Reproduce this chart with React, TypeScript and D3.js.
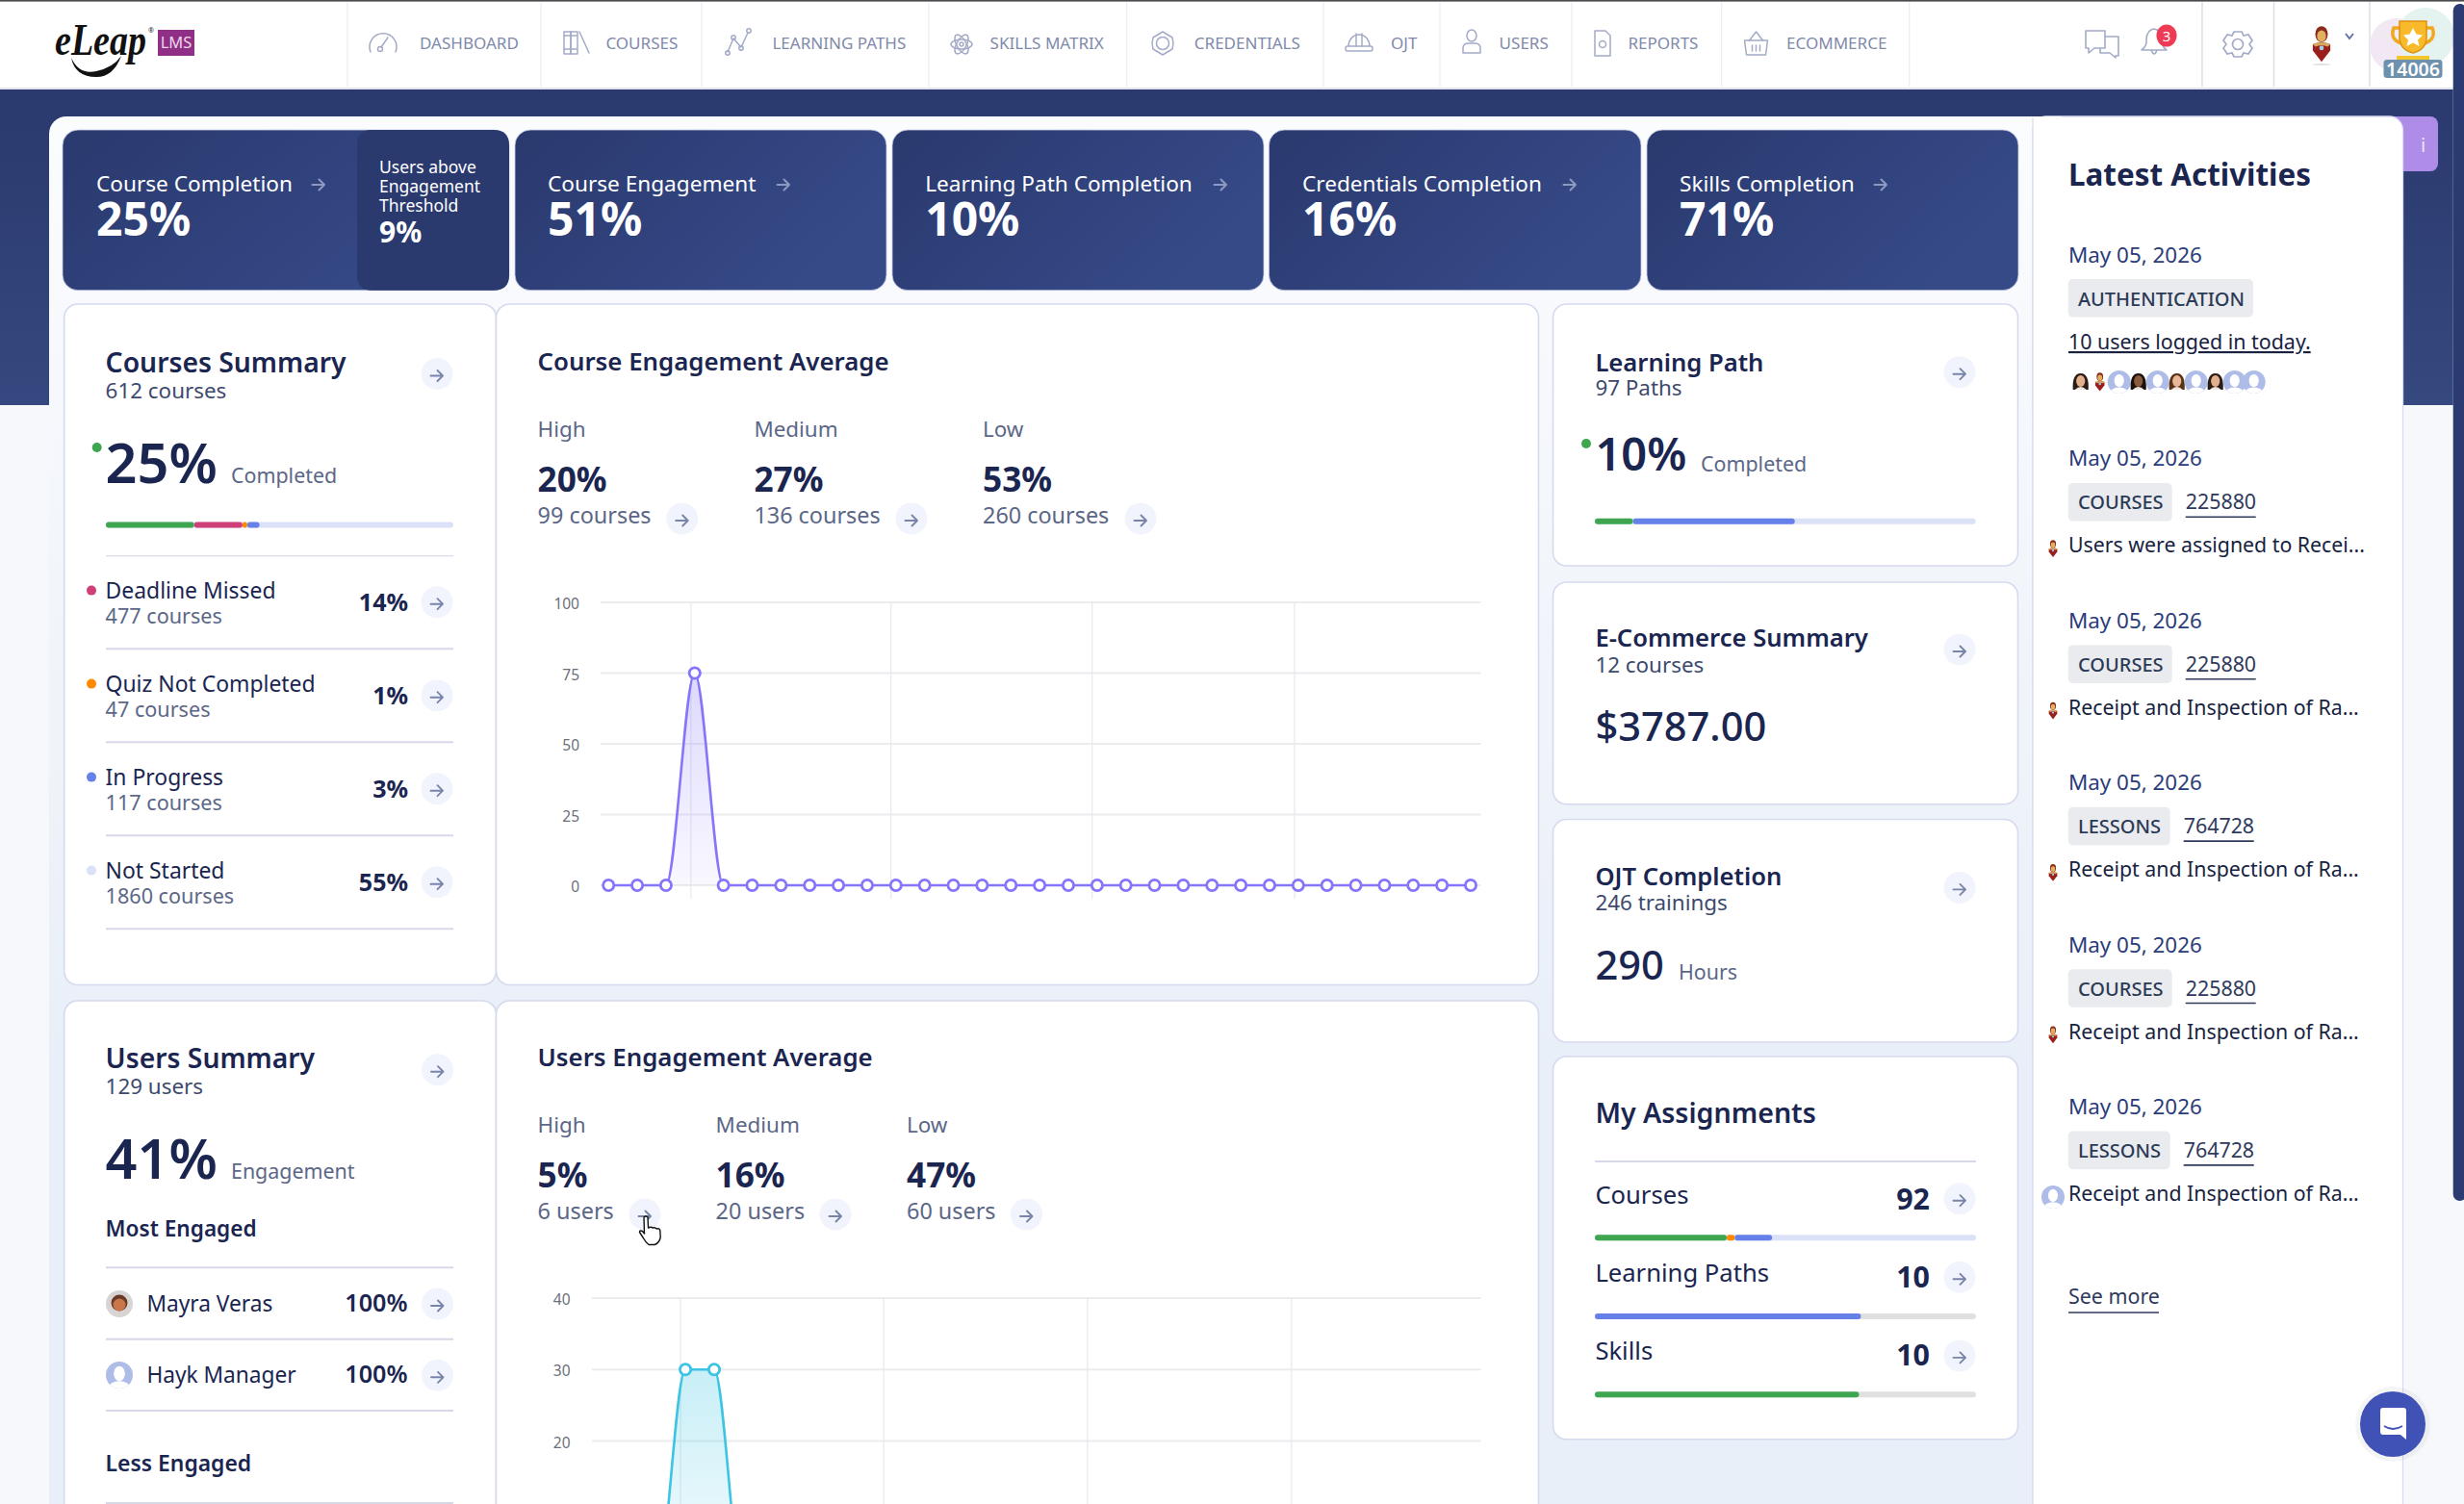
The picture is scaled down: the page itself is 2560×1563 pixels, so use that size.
import React from "react";
import * as d3 from "d3";

// ---------- data ----------
const navLabels = ["DASHBOARD", "COURSES", "LEARNING PATHS", "SKILLS MATRIX", "CREDENTIALS", "OJT", "USERS", "REPORTS", "ECOMMERCE"];
const statTitles = ["Course Completion", "Course Engagement", "Learning Path Completion", "Credentials Completion", "Skills Completion"];
const statValues = ["25%", "51%", "10%", "16%", "71%"];
const thresholdLines = ["Users above", "Engagement", "Threshold"];
const thresholdValue = "9%";

const summaryLabels = ["Deadline Missed", "Quiz Not Completed", "In Progress", "Not Started"];
const summaryCounts = ["477 courses", "47 courses", "117 courses", "1860 courses"];
const summaryValues = ["14%", "1%", "3%", "55%"];
const summaryBar = [25.4, 13.9, 1.4, 3.5];

const levelLabels = ["High", "Medium", "Low"];
const courseLevelValues = ["20%", "27%", "53%"];
const courseLevelCounts = ["99 courses", "136 courses", "260 courses"];
const userLevelValues = ["5%", "16%", "47%"];
const userLevelCounts = ["6 users", "20 users", "60 users"];

const courseEngagement = [0, 0, 0, 75, 0, 0, 0, 0, 0, 0, 0, 0, 0, 0, 0, 0, 0, 0, 0, 0, 0, 0, 0, 0, 0, 0, 0, 0, 0, 0, 0];
const userEngagement = [0, 0, 0, 30, 30, 0, 0, 0, 0, 0, 0, 0, 0, 0, 0, 0, 0, 0, 0, 0, 0, 0, 0, 0, 0, 0, 0, 0, 0, 0, 0];
const courseTicks = [0, 25, 50, 75, 100];
const userTicks = [20, 30, 40];
const courseWeekMarks = [2.87, 9.83, 16.83, 23.87];
const userWeekMarks = [2.83, 9.89, 16.97, 24.06];

const engagedNames = ["Mayra Veras", "Hayk Manager"];
const engagedValues = ["100%", "100%"];

const learningBar = [10, 42.5];
const assignLabels = ["Courses", "Learning Paths", "Skills"];
const assignCounts = ["92", "10", "10"];
const assignCoursesBar = [34.6, 2.1, 9.8];
const assignPathsBar = [69.8];
const assignSkillsBar = [69.3];

const activityTags = ["COURSES", "COURSES", "LESSONS", "COURSES", "LESSONS"];
const activityIds = ["225880", "225880", "764728", "225880", "764728"];
const activityTexts = [
  "Users were assigned to Recei...",
  "Receipt and Inspection of Ra...",
  "Receipt and Inspection of Ra...",
  "Receipt and Inspection of Ra...",
  "Receipt and Inspection of Ra...",
];
const activityDate = "May 05, 2026";

// ---------- palette / layout ----------
const FONT = "'Noto Sans', sans-serif";
const INK = "#1a2550";
const SUB = "#5c6787";
const NAVTXT = "#7f8aab";
const ICON = "#a3abc6";
const GREEN = "#3fa650";
const PINK = "#cf3f78";
const ORANGE = "#ff8a00";
const BLUE = "#6580e8";
const PALE = "#dbe1f7";

const navTextX = [436, 629.4, 802.4, 1028.6, 1240.8, 1445, 1557.6, 1691.4, 1856];
const navIconX = [398, 599, 767, 999, 1208, 1412, 1529, 1665, 1824.5];
const navSeps = [361, 562, 729, 965, 1170.6, 1375, 1496, 1633, 1788.6, 1983.7, 2288, 2362.5, 2462];
const statRects = [[65, 529], [535, 921], [927, 1313], [1318.4, 1705], [1711, 2097]];
const statTextX = [100, 569, 961.2, 1353, 1745];
const statArrowX = [331, 814, 1268, 1631, 1954];

type TProps = { x: number; y: number; s: number; w?: number; c?: string; a?: "start" | "end" | "middle"; children: React.ReactNode; u?: boolean; ff?: string; i?: boolean; len?: number };
const T = ({ x, y, s, w = 400, c = INK, a = "start", children, u, ff, i, len }: TProps) => (
  <text x={x} y={y} fontSize={s} fontWeight={w} fill={c} textAnchor={a} fontFamily={ff || FONT} fontStyle={i ? "italic" : "normal"} textDecoration={u ? "underline" : "none"} textLength={len} lengthAdjust={len ? "spacingAndGlyphs" : undefined}>
    {children}
  </text>
);

const Arrow = ({ x, y, c = "#7984a9", sw = 1.9 }: { x: number; y: number; c?: string; sw?: number }) => (
  <path d={`M${x - 6.5} ${y}H${x + 6}M${x + 0.5} ${y - 5.5}L${x + 6} ${y}L${x + 0.5} ${y + 5.5}`} fill="none" stroke={c} strokeWidth={sw} strokeLinecap="round" strokeLinejoin="round" />
);
const Go = ({ x, y }: { x: number; y: number }) => (
  <g>
    <circle cx={x} cy={y} r={16.5} fill="#f1f4fc" />
    <Arrow x={x} y={y + 2} />
  </g>
);

const Card = ({ x0, x1, y0, y1 }: { x0: number; x1: number; y0: number; y1: number }) => (
  <rect x={x0} y={y0} width={x1 - x0} height={y1 - y0} rx={14} fill="#fff" stroke="#d6daee" strokeWidth={1.6} />
);

const Bar = ({ x0, x1, y, vals, cols, track = PALE }: { x0: number; x1: number; y: number; vals: number[]; cols: string[]; track?: string }) => {
  const sc = d3.scaleLinear().domain([0, 100]).range([x0, x1]);
  const cum = [0, ...Array.from(d3.cumsum(vals))];
  return (
    <g>
      <rect x={x0} y={y - 3} width={x1 - x0} height={6} rx={3} fill={track} />
      {vals
        .map((v, i) => (
          <rect key={i} x={sc(cum[i])} y={y - 3} width={sc(cum[i] + v) - sc(cum[i])} height={6} rx={3} fill={cols[i]} />
        ))
        .reverse()}
    </g>
  );
};

const Generic = ({ x, y, r = 12 }: { x: number; y: number; r?: number }) => (
  <g>
    <clipPath id={`g${Math.round(x)}_${Math.round(y)}`}>
      <circle cx={x} cy={y} r={r} />
    </clipPath>
    <circle cx={x} cy={y} r={r} fill="#aebce8" />
    <g clipPath={`url(#g${Math.round(x)}_${Math.round(y)})`}>
      <ellipse cx={x} cy={y - 1.5} rx={r * 0.42} ry={r * 0.55} fill="#fff" />
      <ellipse cx={x} cy={y + r * 0.95} rx={r * 0.8} ry={r * 0.5} fill="#fff" />
    </g>
  </g>
);
const Iron = ({ x, y, k = 1 }: { x: number; y: number; k?: number }) => (
  <g transform={`translate(${x},${y}) scale(${k})`}>
    <ellipse cx={0} cy={-8} rx={5} ry={6.5} fill="#8a2a1c" />
    <ellipse cx={0} cy={-6.5} rx={3.6} ry={4.6} fill="#e0b060" />
    <path d="M-7 0Q0 -3 7 0L7 5L0 14L-7 5Z" fill="#9a1f1c" />
    <path d="M-7 0Q0 -3 7 0L5 2Q0 0 -5 2Z" fill="#d9a860" />
    <circle cx={0} cy={3} r={1.8} fill="#9fd0e8" />
  </g>
);
const Face = ({ x, y, skin = "#e3b08c", hair = "#2c1c18" }: { x: number; y: number; skin?: string; hair?: string }) => (
  <g>
    <path d={`M${x - 8} ${y + 8}Q${x - 9} ${y - 9} ${x} ${y - 9}Q${x + 9} ${y - 9} ${x + 8} ${y + 8}Z`} fill={hair} />
    <ellipse cx={x} cy={y - 1} rx={4.6} ry={6} fill={skin} />
    <path d={`M${x - 6} ${y + 8}Q${x} ${y + 2} ${x + 6} ${y + 8}Z`} fill="#efe6e0" />
  </g>
);

const Chart = ({ series, ticks, yDom, yRange, xRange, gridX0, color, area, clipId, labelX, marks }: any) => {
  const xs = d3.scaleLinear().domain([0, 30]).range(xRange);
  const ys = d3.scaleLinear().domain(yDom).range(yRange);
  const base = ys(0);
  const line = d3.line<number>().x((_, i) => xs(i)).y((d) => ys(d)).curve(d3.curveMonotoneX);
  const ar = d3.area<number>().x((_, i) => xs(i)).y0(base).y1((d) => ys(d)).curve(d3.curveMonotoneX);
  const top = ys(yDom[1]);
  return (
    <g>
      <defs>
        <linearGradient id={clipId} x1="0" y1={top + (base - top) * 0.25} x2="0" y2={base} gradientUnits="userSpaceOnUse">
          <stop offset="0" stopColor={area} stopOpacity={0.28} />
          <stop offset="1" stopColor={area} stopOpacity={0.05} />
        </linearGradient>
      </defs>
      {ticks.map((t: number) => (
        <g key={t}>
          <line x1={gridX0} x2={1538.6} y1={ys(t)} y2={ys(t)} stroke="#ececef" strokeWidth={1.8} />
          <T x={labelX} y={ys(t) + 7} s={15.5} c="#6c6f78" a="end">{t}</T>
        </g>
      ))}
      {marks.map((m: number) => (
        <line key={m} x1={xs(m)} x2={xs(m)} y1={top} y2={base + 14} stroke="#e8e8ee" strokeWidth={1.2} />
      ))}
      <path d={ar(series) as string} fill={`url(#${clipId})`} />
      <path d={line(series) as string} fill="none" stroke={color} strokeWidth={2.6} />
      {series.map((d: number, i: number) => (
        <circle key={i} cx={xs(i)} cy={ys(d)} r={5.6} fill="#fff" stroke={color} strokeWidth={2.8} />
      ))}
    </g>
  );
};

const NavIcon = ({ i, x }: { i: number; x: number }) => {
  const y = 45;
  const p = { fill: "none", stroke: ICON, strokeWidth: 1.5, strokeLinecap: "round", strokeLinejoin: "round" } as any;
  if (i === 0)
    return (
      <g {...p}>
        <path d={`M${x - 13} ${y + 9}A14 14 0 1 1 ${x + 13} ${y + 9}`} />
        <path d={`M${x - 2} ${y + 4}L${x + 5} ${y - 6}`} />
        <circle cx={x - 3} cy={y + 6} r={2.5} />
      </g>
    );
  if (i === 1)
    return (
      <g {...p}>
        <rect x={x - 13} y={y - 12} width={7} height={23} />
        <rect x={x - 6} y={y - 12} width={7} height={23} />
        <path d={`M${x + 3} ${y - 12}L${x + 13} ${y + 10}`} />
        <path d={`M${x - 13} ${y - 8}H${x}M${x - 13} ${y + 6}H${x}`} />
      </g>
    );
  if (i === 2)
    return (
      <g {...p}>
        <path d={`M${x - 11} ${y + 9}L${x - 5} ${y - 5}L${x + 3} ${y + 4}L${x + 10} ${y - 11}`} />
        <circle cx={x - 11} cy={y + 10} r={2.2} />
        <circle cx={x - 5} cy={y - 6} r={2.2} />
        <circle cx={x + 3} cy={y + 5} r={2.2} />
        <circle cx={x + 11} cy={y - 13} r={2.2} />
      </g>
    );
  if (i === 3)
    return (
      <g {...p}>
        <ellipse cx={x} cy={y + 1} rx={11} ry={5} transform={`rotate(60 ${x} ${y + 1})`} />
        <ellipse cx={x} cy={y + 1} rx={11} ry={5} transform={`rotate(-60 ${x} ${y + 1})`} />
        <ellipse cx={x} cy={y + 1} rx={11} ry={5} />
        <circle cx={x} cy={y + 1} r={2} />
      </g>
    );
  if (i === 4)
    return (
      <g {...p}>
        <path d={`M${x} ${y - 12}L${x + 5} ${y - 9}L${x + 10} ${y - 6}L${x + 11} ${y}L${x + 10} ${y + 6}L${x + 5} ${y + 9}L${x} ${y + 12}L${x - 5} ${y + 9}L${x - 10} ${y + 6}L${x - 11} ${y}L${x - 10} ${y - 6}L${x - 5} ${y - 9}Z`} />
        <circle cx={x} cy={y} r={6.5} />
      </g>
    );
  if (i === 5)
    return (
      <g {...p}>
        <path d={`M${x - 11} ${y + 3}A11 12 0 0 1 ${x + 11} ${y + 3}`} />
        <rect x={x - 14} y={y + 3} width={28} height={5} rx={2} />
        <path d={`M${x - 3} ${y - 10}V${y + 3}M${x + 3} ${y - 10}V${y + 3}`} />
      </g>
    );
  if (i === 6)
    return (
      <g {...p}>
        <ellipse cx={x} cy={y - 8} rx={5} ry={6} />
        <path d={`M${x - 9} ${y + 10}V${y + 5}Q${x - 9} ${y} ${x - 3} ${y}H${x + 3}Q${x + 9} ${y} ${x + 9} ${y + 5}V${y + 10}Z`} />
      </g>
    );
  if (i === 7)
    return (
      <g {...p}>
        <path d={`M${x - 8} ${y - 13}H${x + 3}L${x + 8} ${y - 8}V${y + 13}H${x - 8}Z`} />
        <circle cx={x} cy={y + 1} r={3.5} />
      </g>
    );
  return (
    <g {...p}>
      <path d={`M${x - 12} ${y - 3}H${x + 12}L${x + 10} ${y + 12}H${x - 10}Z`} />
      <path d={`M${x - 7} ${y - 3}L${x} ${y - 12}L${x + 7} ${y - 3}`} />
      <path d={`M${x - 4} ${y + 2}V${y + 8}M${x} ${y + 2}V${y + 8}M${x + 4} ${y + 2}V${y + 8}`} />
    </g>
  );
};

const LevelBlock = ({ dy, xs, goXs, vals, counts }: any) =>
  levelLabels.map((l, i) => (
    <g key={l}>
      <T x={xs[i]} y={453.7 + dy} s={22.4} c={SUB}>{l}</T>
      <T x={xs[i]} y={510.7 + dy} s={35.2} w={700}>{vals[i]}</T>
      <T x={xs[i]} y={543.7 + dy} s={23.4} c={SUB}>{counts[i]}</T>
      <Go x={goXs[i]} y={539 + dy} />
    </g>
  ));

export default function App() {
  const rowY = d3.scaleLinear().domain([0, 1]).range([0, 97]);
  const dotCols = [PINK, ORANGE, BLUE, PALE];
  const activityY = d3.scaleLinear().domain([0, 1]).range([484.3, 652.7]);
  const tagW: Record<string, number> = { COURSES: 108, LESSONS: 106 };
  const avatars = [0, 1, 2, 3, 4, 5, 6, 7, 8, 9];
  const avatarX = d3.scaleLinear().domain([0, 9]).range([2161.7, 2341.7]);
  const TX = 109.6;
  return (
    <svg width={2560} height={1563} viewBox="0 0 2560 1563" style={{ position: "fixed", left: 0, top: 0, display: "block" }}>
      <defs>
        <linearGradient id="navy" x1="0" y1="93" x2="0" y2="421" gradientUnits="userSpaceOnUse">
          <stop offset="0" stopColor="#2a396e" />
          <stop offset="1" stopColor="#35487f" />
        </linearGradient>
        <linearGradient id="stat" x1="0" y1="0" x2="1" y2="0.45">
          <stop offset="0" stopColor="#2a396e" />
          <stop offset="1" stopColor="#364a88" />
        </linearGradient>
        <linearGradient id="inner" x1="0" y1="121" x2="0" y2="1100" gradientUnits="userSpaceOnUse">
          <stop offset="0" stopColor="#fbfcfe" />
          <stop offset="1" stopColor="#e9eff8" />
        </linearGradient>
      </defs>
      <rect width={2560} height={1563} fill="#f6f8fb" />
      <rect y={93} width={2560} height={328} fill="url(#navy)" />
      <rect x={2548.7} y={93} width={12} height={1100} fill="#f6f8fb" />

      {/* header */}
      <rect width={2560} height={92} fill="#fff" />
      <rect width={2560} height={1.6} fill="#4a4a4e" />
      <rect y={91} width={2560} height={1.6} fill="#dfe1ea" />
      {navSeps.map((x, i) => (
        <line key={x} x1={x} x2={x} y1={2} y2={90} stroke={i > 9 ? "#d9dbe2" : "#eceef5"} strokeWidth={1.3} />
      ))}
      <T x={57} y={57} s={46} w={700} i ff="'Liberation Serif', serif" c="#111" len={95}>eLeap</T>
      <path d="M74 60Q82 78 100 74Q118 70 126 58Q118 80 100 80Q78 80 74 60Z" fill="#111" />
      <T x={154} y={34} s={7} c="#222">®</T>
      <rect x={164} y={31} width={38} height={27} fill="#8f2f85" />
      <T x={183} y={50} s={16.5} c="#eed7ea" a="middle">LMS</T>
      {navLabels.map((n, i) => (
        <g key={n}>
          <NavIcon i={i} x={navIconX[i]} />
          <T x={navTextX[i]} y={51} s={17.05} c={NAVTXT}>{n}</T>
        </g>
      ))}
      <g fill="none" stroke={ICON} strokeWidth={1.6} strokeLinejoin="round">
        <path d="M2167 32H2187V50H2176L2170 55V50H2167Z" />
        <path d="M2187 38H2201V58H2198V60L2192 55H2182V50" />
        <path d="M2225 52Q2231 48 2230 40Q2231 31 2238 30Q2245 31 2246 40Q2245 48 2251 52Z" />
        <path d="M2235 52Q2238 60 2241 52" />
      </g>
      <ellipse cx={2251} cy={37} rx={10.5} ry={11.5} fill="#ef3a55" />
      <T x={2251} y={43} s={15} c="#fff" a="middle">3</T>
      <g fill="none" stroke={ICON} strokeWidth={1.7}>
        <circle cx={2325} cy={46} r={5.5} />
        <path d="M2321 33H2329L2331 37L2336 36L2340 42L2337 46L2340 50L2336 56L2331 55L2329 59H2321L2319 55L2314 56L2310 50L2313 46L2310 42L2314 36L2319 37Z" />
      </g>
      <Iron x={2412} y={46} k={1.3} />
      <ellipse cx={2412} cy={67} rx={10} ry={1.2} fill="#e4e4e4" />
      <path d="M2437 35L2441 40L2445 35" fill="none" stroke="#5a6aa5" strokeWidth={1.8} />
      <circle cx={2490} cy={47} r={28} fill="#f2e8f4" />
      <circle cx={2520} cy={38} r={30} fill="#e4f3f0" />
      <g stroke="#e09010" strokeWidth={1.5}>
        <path d="M2497 29H2487Q2482 42 2498 46" fill="none" stroke="#f0a820" strokeWidth={3.5} />
        <path d="M2517 29H2527Q2532 42 2516 46" fill="none" stroke="#f0a820" strokeWidth={3.5} />
        <path d="M2493 22H2521V40Q2520 52 2507 55Q2494 52 2493 40Z" fill="#f8b92a" />
      </g>
      <path d="M2507 29L2510.5 35.5L2517 36.5L2512 41.5L2513.5 48L2507 44.5L2500.5 48L2502 41.5L2497 36.5L2503.5 35.5Z" fill="#fff" />
      <rect x={2490} y={58} width={34} height={5} fill="#f5c52c" />
      <rect x={2476.5} y={62} width={61} height={19} rx={3.5} fill="#6e92ad" />
      <T x={2507} y={79} s={19.5} w={600} c="#fff" a="middle">14006</T>

      {/* containers */}
      <rect x={2460} y={121} width={73} height={57} rx={8} fill="#af8ce8" />
      <T x={2515} y={158} s={20} c="#ece3fa">i</T>
      <rect x={51} y={121} width={2080} height={1500} rx={18} fill="url(#inner)" />
      <rect x={2112} y={121} width={384.5} height={1500} rx={14} fill="#fff" stroke="#d9dcf0" strokeWidth={1.3} />
      <rect x={2112} y={121} width={30} height={1500} fill="#fff" />
      <line x1={2112} x2={2112} y1={122} y2={1563} stroke="#d9dcf0" strokeWidth={1.3} />
      <rect x={2548.7} y={4} width={14} height={1244} rx={7} fill="#2b3a70" />

      {/* stat cards */}
      {statRects.map(([a, b], i) => (
        <g key={i}>
          <rect x={a} y={135} width={b - a} height={166.7} rx={16} fill="url(#stat)" stroke="#c9cfe6" strokeWidth={0.8} />
          <T x={statTextX[i]} y={199} s={22.6} c="#fff">{statTitles[i]}</T>
          <T x={statTextX[i]} y={245} s={48} w={700} c="#fff">{statValues[i]}</T>
          <Arrow x={statArrowX[i]} y={192} c="#8e99c0" sw={2} />
        </g>
      ))}
      <path d="M386 135H513Q529 135 529 151V285.7Q529 301.7 513 301.7H386Q371 301.7 371 285.7V151Q371 135 386 135Z" fill="#2a396e" />
      {thresholdLines.map((l, i) => (
        <T key={l} x={394} y={180.3 + i * 20} s={17.5} c="#fff">{l}</T>
      ))}
      <T x={394} y={251.7} s={30} w={700} c="#fff">{thresholdValue}</T>

      {/* courses summary */}
      <Card x0={66.7} x1={515.5} y0={316} y1={1023.5} />
      <Card x0={515.5} x1={1598.5} y0={316} y1={1023.5} />
      <T x={TX} y={387} s={28.3} w={600}>Courses Summary</T>
      <T x={TX} y={414} s={22.4} c="#3d4a6e">612 courses</T>
      <Go x={454} y={388.5} />
      <circle cx={100.7} cy={465} r={5} fill={GREEN} />
      <T x={TX} y={502} s={57.6} w={600}>25%</T>
      <T x={240} y={502} s={21.4} c={SUB}>Completed</T>
      <Bar x0={110} x1={471} y={545.5} vals={summaryBar} cols={[GREEN, PINK, ORANGE, BLUE]} />
      <line x1={110} x2={471} y1={577.6} y2={577.6} stroke="#d9dcec" strokeWidth={1.4} />
      {summaryLabels.map((l, i) => (
        <g key={l}>
          <circle cx={95} cy={613.6 + rowY(i)} r={5} fill={dotCols[i]} />
          <T x={TX} y={622 + rowY(i)} s={22.9}>{l}</T>
          <T x={TX} y={648 + rowY(i)} s={21.6} c={SUB}>{summaryCounts[i]}</T>
          <T x={424} y={635 + rowY(i)} s={25} w={700} a="end">{summaryValues[i]}</T>
          <Go x={454} y={625.7 + rowY(i)} />
          <line x1={110} x2={471} y1={674.3 + rowY(i)} y2={674.3 + rowY(i)} stroke="#d6d8e8" strokeWidth={2} />
        </g>
      ))}

      {/* course engagement */}
      <T x={558.6} y={385} s={25.8} w={600}>Course Engagement Average</T>
      <LevelBlock dy={0} xs={[558.6, 783.4, 1021]} goXs={[708.7, 947, 1185]} vals={courseLevelValues} counts={courseLevelCounts} />
      <Chart series={courseEngagement} ticks={courseTicks} yDom={[0, 100]} yRange={[920, 626]} xRange={[632.2, 1528]} gridX0={624} color="#8575fb" area="#8575fb" clipId="gradA" labelX={602} marks={courseWeekMarks} />

      {/* users summary */}
      <Card x0={66.7} x1={515.5} y0={1040} y1={1640} />
      <Card x0={515.5} x1={1598.5} y0={1040} y1={1640} />
      <T x={TX} y={1110} s={28.3} w={600}>Users Summary</T>
      <T x={TX} y={1136.7} s={22.4} c="#3d4a6e">129 users</T>
      <Go x={454.5} y={1111.7} />
      <T x={TX} y={1225} s={57.6} w={600}>41%</T>
      <T x={240} y={1225} s={21.4} c={SUB}>Engagement</T>
      <T x={TX} y={1285} s={22.6} w={600}>Most Engaged</T>
      <line x1={110} x2={471} y1={1317.3} y2={1317.3} stroke="#d6d8e8" strokeWidth={2} />
      <circle cx={124} cy={1355} r={14} fill="#d8d4d4" />
      <circle cx={124} cy={1354} r={8.5} fill="#6a3a26" />
      <circle cx={124} cy={1356} r={6.5} fill="#c8764a" />
      <Generic x={124} y={1429} r={14} />
      {engagedNames.map((n, i) => (
        <g key={n}>
          <T x={152.4} y={1362.7 + i * 74.3} s={22.7}>{n}</T>
          <T x={423.5} y={1363 + i * 74.3} s={25.2} w={600} a="end">{engagedValues[i]}</T>
          <Go x={454.5} y={1355 + i * 74.3} />
          <line x1={110} x2={471} y1={1391.7 + i * 74.3} y2={1391.7 + i * 74.3} stroke="#d6d8e8" strokeWidth={2} />
        </g>
      ))}
      <T x={TX} y={1529} s={22.9} w={600}>Less Engaged</T>
      <line x1={110} x2={471} y1={1562} y2={1562} stroke="#d6d8e8" strokeWidth={2} />

      {/* users engagement */}
      <T x={558.6} y={1108} s={25.8} w={600}>Users Engagement Average</T>
      <LevelBlock dy={723} xs={[558.6, 743.6, 942]} goXs={[670, 868, 1066.5]} vals={userLevelValues} counts={userLevelCounts} />
      <Chart series={userEngagement} ticks={userTicks} yDom={[0, 40]} yRange={[1646, 1349]} xRange={[622.4, 1519.4]} gridX0={615} color="#3cc4e2" area="#3cc4e2" clipId="gradB" labelX={592.5} marks={userWeekMarks} />
      <path
        d="M669 1265Q671 1263 673 1265L673.5 1276Q676.5 1274.5 678 1276Q681 1275 682 1277Q685 1276.2 685.8 1278.5L686.2 1286Q685 1292 680 1293.5L674 1293.5Q671 1291.5 668 1286L664.5 1280.5Q664.5 1278 667.5 1279.5L669.5 1282Z"
        fill="#fff" stroke="#111" strokeWidth={1.4} strokeLinejoin="round"
      />

      {/* right cards */}
      <Card x0={1613.5} x1={2096.5} y0={316} y1={588} />
      <T x={1657.4} y={385.7} s={25.6} w={600}>Learning Path</T>
      <T x={1657.4} y={411} s={22.4} c="#3d4a6e">97 Paths</T>
      <Go x={2036} y={386.7} />
      <circle cx={1648} cy={461} r={5} fill={GREEN} />
      <T x={1657.4} y={489} s={47} w={600}>10%</T>
      <T x={1767} y={489.5} s={21.4} c={SUB}>Completed</T>
      <Bar x0={1657} x1={2052.7} y={541.8} vals={learningBar} cols={[GREEN, BLUE]} />

      <Card x0={1613.5} x1={2096.5} y0={605} y1={835.7} />
      <T x={1657.4} y={672} s={25.6} w={600}>E-Commerce Summary</T>
      <T x={1657.4} y={699} s={22.4} c="#3d4a6e">12 courses</T>
      <Go x={2036} y={675} />
      <T x={1657.4} y={770.4} s={41.6} w={500}>$3787.00</T>

      <Card x0={1613.5} x1={2096.5} y0={851.5} y1={1083} />
      <T x={1657.4} y={920.4} s={25.6} w={600}>OJT Completion</T>
      <T x={1657.4} y={946} s={22.4} c="#3d4a6e">246 trainings</T>
      <Go x={2036} y={922.4} />
      <T x={1657.4} y={1018} s={41.6} w={500}>290</T>
      <T x={1744} y={1018} s={21.4} c={SUB}>Hours</T>

      <Card x0={1613.5} x1={2096.5} y0={1098} y1={1495.7} />
      <T x={1657.4} y={1166.7} s={28.6} w={600}>My Assignments</T>
      <line x1={1657} x2={2053} y1={1207} y2={1207} stroke="#d6d8e8" strokeWidth={2} />
      {assignLabels.map((l, i) => (
        <g key={l}>
          <T x={1657.4} y={1251 + i * 81} s={25.6}>{l}</T>
          <T x={2005} y={1256.7 + i * 81} s={30.4} w={700} a="end">{assignCounts[i]}</T>
          <Go x={2036} y={1245.7 + i * 81.6} />
        </g>
      ))}
      <Bar x0={1657} x1={2053} y={1286.3} vals={assignCoursesBar} cols={[GREEN, ORANGE, BLUE]} />
      <Bar x0={1657} x1={2053} y={1368} vals={assignPathsBar} cols={[BLUE]} track="#e0e0e0" />
      <Bar x0={1657} x1={2053} y={1449.3} vals={assignSkillsBar} cols={[GREEN]} track="#e0e0e0" />

      {/* activities */}
      <T x={2149} y={193} s={31.4} w={700}>Latest Activities</T>
      <T x={2149} y={273} s={22.4} c="#2b3c7a">{activityDate}</T>
      <rect x={2148.7} y={290} width={192.3} height={39.6} rx={5} fill="#eaebef" />
      <T x={2159} y={317.5} s={20} w={500} c="#2b3a55">AUTHENTICATION</T>
      <T x={2149} y={363} s={21.4} u c="#17233f">10 users logged in today.</T>
      {avatars.map((a) => {
        const x = avatarX(a);
        const y = 397;
        if (a === 1) return <Iron key={a} x={x} y={y} k={0.68} />;
        if (a === 0 || a === 7) return <Face key={a} x={x} y={y} />;
        if (a === 3) return <Face key={a} x={x} y={y} skin="#8a5a3a" hair="#1a100c" />;
        if (a === 5) return <Face key={a} x={x} y={y} skin="#e8b898" hair="#5a3418" />;
        return <Generic key={a} x={x} y={y} />;
      })}
      {activityTags.map((tag, i) => {
        const d = activityY(i);
        const idX = 2148.7 + tagW[tag] + 14;
        return (
          <g key={i}>
            <T x={2149} y={d} s={22.4} c="#2b3c7a">{activityDate}</T>
            <rect x={2148.7} y={d + 17.7} width={tagW[tag]} height={39.6} rx={5} fill="#eaebef" />
            <T x={2159} y={d + 45} s={20} w={500} c="#2b3a55">{tag}</T>
            <T x={idX} y={d + 45} s={21.4} c="#2f3a5c">{activityIds[i]}</T>
            <line x1={idX} x2={idX + 73} y1={d + 53} y2={d + 53} stroke="#2f3a5c" strokeWidth={1.6} />
            <T x={2149} y={d + 90} s={21.3} c="#17233f">{activityTexts[i]}</T>
            {i === 4 ? <Generic x={2133} y={d + 86} /> : <Iron x={2133} y={d + 86} k={0.62} />}
          </g>
        );
      })}
      <T x={2149} y={1355} s={21.4} c="#2f3a5c">See more</T>
      <line x1={2149} x2={2243} y1={1364} y2={1364} stroke="#2f3a5c" strokeWidth={1.6} />

      <circle cx={2486} cy={1480} r={39} fill="#000" opacity={0.04} />
      <circle cx={2486} cy={1480} r={34} fill="#4052b5" />
      <path d="M2473 1466Q2473 1463 2476 1463H2497Q2500 1463 2500 1466V1496L2494 1491H2476Q2473 1491 2473 1488Z" fill="#fff" />
      <path d="M2477 1482Q2486 1488 2496 1482" fill="none" stroke="#4052b5" strokeWidth={1.8} />
    </svg>
  );
}
